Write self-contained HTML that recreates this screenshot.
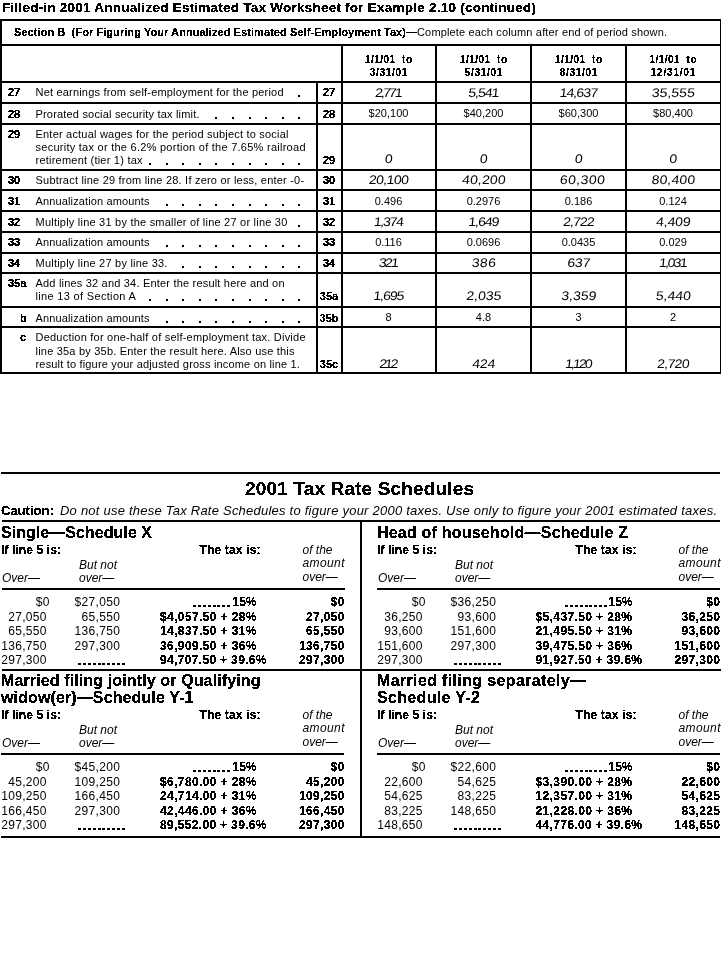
<!DOCTYPE html>
<html><head><meta charset="utf-8"><title>2001 Annualized Estimated Tax Worksheet</title>
<style>
html,body{margin:0;padding:0;background:#fff;width:721px;height:963px;overflow:hidden}
svg{display:block}
text{font-family:"Liberation Sans",Arial,Helvetica,sans-serif;font-size:11px;white-space:pre}
text.hw{font-style:normal}
</style></head><body>
<svg width="721" height="963" viewBox="0 0 721 963">
<defs><filter id="bin" filterUnits="userSpaceOnUse" x="0" y="0" width="721" height="963"><feComponentTransfer><feFuncA type="discrete" tableValues="0 1 1"/></feComponentTransfer></filter></defs>
<g shape-rendering="crispEdges" fill="#000">
<rect x="0" y="19" width="721" height="2"/>
<rect x="0" y="19" width="2" height="355"/>
<rect x="720" y="19" width="1" height="355"/>
<rect x="0" y="44" width="721" height="2"/>
<rect x="0" y="81" width="721" height="2"/>
<rect x="0" y="102" width="721" height="2"/>
<rect x="0" y="123" width="721" height="2"/>
<rect x="0" y="169" width="721" height="2"/>
<rect x="0" y="189" width="721" height="2"/>
<rect x="0" y="210" width="721" height="2"/>
<rect x="0" y="231" width="721" height="2"/>
<rect x="0" y="252" width="721" height="2"/>
<rect x="0" y="272" width="721" height="2"/>
<rect x="0" y="306" width="721" height="2"/>
<rect x="0" y="326" width="721" height="2"/>
<rect x="0" y="372" width="721" height="2"/>
<rect x="316" y="81" width="2" height="291"/>
<rect x="341" y="44" width="2" height="328"/>
<rect x="435" y="44" width="2" height="328"/>
<rect x="530" y="44" width="2" height="328"/>
<rect x="625" y="44" width="2" height="328"/>
<rect x="298" y="95" width="2" height="2"/>
<rect x="215" y="117" width="2" height="2"/>
<rect x="232" y="117" width="2" height="2"/>
<rect x="249" y="117" width="2" height="2"/>
<rect x="265" y="117" width="2" height="2"/>
<rect x="282" y="117" width="2" height="2"/>
<rect x="298" y="117" width="2" height="2"/>
<rect x="149" y="163" width="2" height="2"/>
<rect x="166" y="163" width="2" height="2"/>
<rect x="182" y="163" width="2" height="2"/>
<rect x="199" y="163" width="2" height="2"/>
<rect x="215" y="163" width="2" height="2"/>
<rect x="232" y="163" width="2" height="2"/>
<rect x="249" y="163" width="2" height="2"/>
<rect x="265" y="163" width="2" height="2"/>
<rect x="282" y="163" width="2" height="2"/>
<rect x="298" y="163" width="2" height="2"/>
<rect x="166" y="204" width="2" height="2"/>
<rect x="182" y="204" width="2" height="2"/>
<rect x="199" y="204" width="2" height="2"/>
<rect x="215" y="204" width="2" height="2"/>
<rect x="232" y="204" width="2" height="2"/>
<rect x="249" y="204" width="2" height="2"/>
<rect x="265" y="204" width="2" height="2"/>
<rect x="282" y="204" width="2" height="2"/>
<rect x="298" y="204" width="2" height="2"/>
<rect x="298" y="225" width="2" height="2"/>
<rect x="166" y="245" width="2" height="2"/>
<rect x="182" y="245" width="2" height="2"/>
<rect x="199" y="245" width="2" height="2"/>
<rect x="215" y="245" width="2" height="2"/>
<rect x="232" y="245" width="2" height="2"/>
<rect x="249" y="245" width="2" height="2"/>
<rect x="265" y="245" width="2" height="2"/>
<rect x="282" y="245" width="2" height="2"/>
<rect x="298" y="245" width="2" height="2"/>
<rect x="182" y="266" width="2" height="2"/>
<rect x="199" y="266" width="2" height="2"/>
<rect x="215" y="266" width="2" height="2"/>
<rect x="232" y="266" width="2" height="2"/>
<rect x="249" y="266" width="2" height="2"/>
<rect x="265" y="266" width="2" height="2"/>
<rect x="282" y="266" width="2" height="2"/>
<rect x="298" y="266" width="2" height="2"/>
<rect x="149" y="299" width="2" height="2"/>
<rect x="166" y="299" width="2" height="2"/>
<rect x="182" y="299" width="2" height="2"/>
<rect x="199" y="299" width="2" height="2"/>
<rect x="215" y="299" width="2" height="2"/>
<rect x="232" y="299" width="2" height="2"/>
<rect x="249" y="299" width="2" height="2"/>
<rect x="265" y="299" width="2" height="2"/>
<rect x="282" y="299" width="2" height="2"/>
<rect x="298" y="299" width="2" height="2"/>
<rect x="166" y="321" width="2" height="2"/>
<rect x="182" y="321" width="2" height="2"/>
<rect x="199" y="321" width="2" height="2"/>
<rect x="215" y="321" width="2" height="2"/>
<rect x="232" y="321" width="2" height="2"/>
<rect x="249" y="321" width="2" height="2"/>
<rect x="265" y="321" width="2" height="2"/>
<rect x="282" y="321" width="2" height="2"/>
<rect x="298" y="321" width="2" height="2"/>
<rect x="1" y="472" width="719" height="2"/>
<rect x="2" y="520" width="718" height="2"/>
<rect x="360" y="520" width="2" height="317"/>
<rect x="2" y="669" width="719" height="2"/>
<rect x="1" y="836" width="719" height="2"/>
<rect x="2" y="588" width="343" height="2"/>
<rect x="193" y="605" width="3" height="2"/>
<rect x="198" y="605" width="3" height="2"/>
<rect x="203" y="605" width="3" height="2"/>
<rect x="208" y="605" width="3" height="2"/>
<rect x="213" y="605" width="3" height="2"/>
<rect x="217" y="605" width="3" height="2"/>
<rect x="222" y="605" width="3" height="2"/>
<rect x="227" y="605" width="3" height="2"/>
<rect x="78" y="663" width="3" height="2"/>
<rect x="83" y="663" width="3" height="2"/>
<rect x="88" y="663" width="3" height="2"/>
<rect x="93" y="663" width="3" height="2"/>
<rect x="98" y="663" width="3" height="2"/>
<rect x="102" y="663" width="3" height="2"/>
<rect x="107" y="663" width="3" height="2"/>
<rect x="112" y="663" width="3" height="2"/>
<rect x="117" y="663" width="3" height="2"/>
<rect x="122" y="663" width="3" height="2"/>
<rect x="377" y="588" width="343" height="2"/>
<rect x="565" y="605" width="3" height="2"/>
<rect x="570" y="605" width="3" height="2"/>
<rect x="575" y="605" width="3" height="2"/>
<rect x="580" y="605" width="3" height="2"/>
<rect x="585" y="605" width="3" height="2"/>
<rect x="589" y="605" width="3" height="2"/>
<rect x="594" y="605" width="3" height="2"/>
<rect x="599" y="605" width="3" height="2"/>
<rect x="604" y="605" width="3" height="2"/>
<rect x="454" y="663" width="3" height="2"/>
<rect x="459" y="663" width="3" height="2"/>
<rect x="464" y="663" width="3" height="2"/>
<rect x="469" y="663" width="3" height="2"/>
<rect x="474" y="663" width="3" height="2"/>
<rect x="478" y="663" width="3" height="2"/>
<rect x="483" y="663" width="3" height="2"/>
<rect x="488" y="663" width="3" height="2"/>
<rect x="493" y="663" width="3" height="2"/>
<rect x="498" y="663" width="3" height="2"/>
<rect x="1" y="753" width="343" height="2"/>
<rect x="193" y="770" width="3" height="2"/>
<rect x="198" y="770" width="3" height="2"/>
<rect x="203" y="770" width="3" height="2"/>
<rect x="208" y="770" width="3" height="2"/>
<rect x="213" y="770" width="3" height="2"/>
<rect x="217" y="770" width="3" height="2"/>
<rect x="222" y="770" width="3" height="2"/>
<rect x="227" y="770" width="3" height="2"/>
<rect x="78" y="828" width="3" height="2"/>
<rect x="83" y="828" width="3" height="2"/>
<rect x="88" y="828" width="3" height="2"/>
<rect x="93" y="828" width="3" height="2"/>
<rect x="98" y="828" width="3" height="2"/>
<rect x="102" y="828" width="3" height="2"/>
<rect x="107" y="828" width="3" height="2"/>
<rect x="112" y="828" width="3" height="2"/>
<rect x="117" y="828" width="3" height="2"/>
<rect x="122" y="828" width="3" height="2"/>
<rect x="377" y="753" width="343" height="2"/>
<rect x="565" y="770" width="3" height="2"/>
<rect x="570" y="770" width="3" height="2"/>
<rect x="575" y="770" width="3" height="2"/>
<rect x="580" y="770" width="3" height="2"/>
<rect x="585" y="770" width="3" height="2"/>
<rect x="589" y="770" width="3" height="2"/>
<rect x="594" y="770" width="3" height="2"/>
<rect x="599" y="770" width="3" height="2"/>
<rect x="604" y="770" width="3" height="2"/>
<rect x="454" y="828" width="3" height="2"/>
<rect x="459" y="828" width="3" height="2"/>
<rect x="464" y="828" width="3" height="2"/>
<rect x="469" y="828" width="3" height="2"/>
<rect x="474" y="828" width="3" height="2"/>
<rect x="478" y="828" width="3" height="2"/>
<rect x="483" y="828" width="3" height="2"/>
<rect x="488" y="828" width="3" height="2"/>
<rect x="493" y="828" width="3" height="2"/>
<rect x="498" y="828" width="3" height="2"/>
</g>
<g class="txt" fill="#000">
<text x="417" y="36" textLength="250" lengthAdjust="spacing">Complete each column after end of period shown.</text>
<text x="35.5" y="96" textLength="248.0" lengthAdjust="spacing">Net earnings from self-employment for the period</text>
<text x="35.5" y="118" textLength="164.0" lengthAdjust="spacing">Prorated social security tax limit.</text>
<text x="35.5" y="138" textLength="253.0" lengthAdjust="spacing">Enter actual wages for the period subject to social</text>
<text x="35.5" y="151" textLength="270.0" lengthAdjust="spacing">security tax or the 6.2% portion of the 7.65% railroad</text>
<text x="35.5" y="164" textLength="107.0" lengthAdjust="spacing">retirement (tier 1) tax</text>
<text x="35.5" y="184" textLength="268.6" lengthAdjust="spacing">Subtract line 29 from line 28. If zero or less, enter -0-</text>
<text x="35.5" y="205" textLength="114.0" lengthAdjust="spacing">Annualization amounts</text>
<text x="35.5" y="226" textLength="251.8" lengthAdjust="spacing">Multiply line 31 by the smaller of line 27 or line 30</text>
<text x="35.5" y="246" textLength="114.0" lengthAdjust="spacing">Annualization amounts</text>
<text x="35.5" y="267" textLength="131.9" lengthAdjust="spacing">Multiply line 27 by line 33.</text>
<text x="35.5" y="287" textLength="249.0" lengthAdjust="spacing">Add lines 32 and 34. Enter the result here and on</text>
<text x="35.5" y="300" textLength="100.4" lengthAdjust="spacing">line 13 of Section A</text>
<text x="35.5" y="322" textLength="114.0" lengthAdjust="spacing">Annualization amounts</text>
<text x="35.5" y="341" textLength="270.0" lengthAdjust="spacing">Deduction for one-half of self-employment tax. Divide</text>
<text x="35.5" y="354.5" textLength="259.0" lengthAdjust="spacing">line 35a by 35b. Enter the result here. Also use this</text>
<text x="35.5" y="368" textLength="264.4" lengthAdjust="spacing">result to figure your adjusted gross income on line 1.</text>
<text transform="translate(388.5 97) skewX(-6) scale(1.12 1)" x="0" y="0" text-anchor="middle" textLength="24.55" lengthAdjust="spacing" class="hw" style="font-size:12.5px">2,771</text>
<text transform="translate(483.5 97) skewX(-6) scale(1.12 1)" x="0" y="0" text-anchor="middle" textLength="27.68" lengthAdjust="spacing" class="hw" style="font-size:12.5px">5,541</text>
<text transform="translate(578.5 97) skewX(-6) scale(1.12 1)" x="0" y="0" text-anchor="middle" textLength="34.38" lengthAdjust="spacing" class="hw" style="font-size:12.5px">14,637</text>
<text transform="translate(673 97) skewX(-6) scale(1.12 1)" x="0" y="0" text-anchor="middle" textLength="38.39" lengthAdjust="spacing" class="hw" style="font-size:12.5px">35,555</text>
<text x="388.5" y="117" text-anchor="middle">$20,100</text>
<text x="483.5" y="117" text-anchor="middle">$40,200</text>
<text x="578.5" y="117" text-anchor="middle">$60,300</text>
<text x="673" y="117" text-anchor="middle">$80,400</text>
<text transform="translate(388.5 163) skewX(-6) scale(1.12 1)" x="0" y="0" text-anchor="middle" class="hw" style="font-size:12.5px">0</text>
<text transform="translate(483.5 163) skewX(-6) scale(1.12 1)" x="0" y="0" text-anchor="middle" class="hw" style="font-size:12.5px">0</text>
<text transform="translate(578.5 163) skewX(-6) scale(1.12 1)" x="0" y="0" text-anchor="middle" class="hw" style="font-size:12.5px">0</text>
<text transform="translate(673 163) skewX(-6) scale(1.12 1)" x="0" y="0" text-anchor="middle" class="hw" style="font-size:12.5px">0</text>
<text transform="translate(388.5 184) skewX(-6) scale(1.12 1)" x="0" y="0" text-anchor="middle" textLength="35.71" lengthAdjust="spacing" class="hw" style="font-size:12.5px">20,100</text>
<text transform="translate(483.5 184) skewX(-6) scale(1.12 1)" x="0" y="0" text-anchor="middle" textLength="38.84" lengthAdjust="spacing" class="hw" style="font-size:12.5px">40,200</text>
<text transform="translate(582.0 184) skewX(-6) scale(1.12 1)" x="0" y="0" text-anchor="middle" textLength="40.18" lengthAdjust="spacing" class="hw" style="font-size:12.5px">60,300</text>
<text transform="translate(673 184) skewX(-6) scale(1.12 1)" x="0" y="0" text-anchor="middle" textLength="38.84" lengthAdjust="spacing" class="hw" style="font-size:12.5px">80,400</text>
<text x="388.5" y="205" text-anchor="middle">0.496</text>
<text x="483.5" y="205" text-anchor="middle">0.2976</text>
<text x="578.5" y="205" text-anchor="middle">0.186</text>
<text x="673" y="205" text-anchor="middle">0.124</text>
<text transform="translate(388.5 226) skewX(-6) scale(1.12 1)" x="0" y="0" text-anchor="middle" textLength="26.79" lengthAdjust="spacing" class="hw" style="font-size:12.5px">1,374</text>
<text transform="translate(483.5 226) skewX(-6) scale(1.12 1)" x="0" y="0" text-anchor="middle" textLength="27.68" lengthAdjust="spacing" class="hw" style="font-size:12.5px">1,649</text>
<text transform="translate(578.5 226) skewX(-6) scale(1.12 1)" x="0" y="0" text-anchor="middle" textLength="28.12" lengthAdjust="spacing" class="hw" style="font-size:12.5px">2,722</text>
<text transform="translate(673 226) skewX(-6) scale(1.12 1)" x="0" y="0" text-anchor="middle" textLength="30.8" lengthAdjust="spacing" class="hw" style="font-size:12.5px">4,409</text>
<text x="388.5" y="246" text-anchor="middle">0.116</text>
<text x="483.5" y="246" text-anchor="middle">0.0696</text>
<text x="578.5" y="246" text-anchor="middle">0.0435</text>
<text x="673" y="246" text-anchor="middle">0.029</text>
<text transform="translate(388.5 267) skewX(-6) scale(1.12 1)" x="0" y="0" text-anchor="middle" textLength="17.86" lengthAdjust="spacing" class="hw" style="font-size:12.5px">321</text>
<text transform="translate(483.5 267) skewX(-6) scale(1.12 1)" x="0" y="0" text-anchor="middle" textLength="21.43" lengthAdjust="spacing" class="hw" style="font-size:12.5px">386</text>
<text transform="translate(578.5 267) skewX(-6) scale(1.12 1)" x="0" y="0" text-anchor="middle" textLength="20.54" lengthAdjust="spacing" class="hw" style="font-size:12.5px">637</text>
<text transform="translate(673 267) skewX(-6) scale(1.12 1)" x="0" y="0" text-anchor="middle" textLength="25.45" lengthAdjust="spacing" class="hw" style="font-size:12.5px">1,031</text>
<text transform="translate(388.5 300) skewX(-6) scale(1.12 1)" x="0" y="0" text-anchor="middle" textLength="27.68" lengthAdjust="spacing" class="hw" style="font-size:12.5px">1,695</text>
<text transform="translate(483.5 300) skewX(-6) scale(1.12 1)" x="0" y="0" text-anchor="middle" textLength="31.25" lengthAdjust="spacing" class="hw" style="font-size:12.5px">2,035</text>
<text transform="translate(578.5 300) skewX(-6) scale(1.12 1)" x="0" y="0" text-anchor="middle" textLength="31.25" lengthAdjust="spacing" class="hw" style="font-size:12.5px">3,359</text>
<text transform="translate(673 300) skewX(-6) scale(1.12 1)" x="0" y="0" text-anchor="middle" textLength="31.25" lengthAdjust="spacing" class="hw" style="font-size:12.5px">5,440</text>
<text x="388.5" y="321" text-anchor="middle">8</text>
<text x="483.5" y="321" text-anchor="middle">4.8</text>
<text x="578.5" y="321" text-anchor="middle">3</text>
<text x="673" y="321" text-anchor="middle">2</text>
<text transform="translate(388.5 368) skewX(-6) scale(1.12 1)" x="0" y="0" text-anchor="middle" textLength="16.96" lengthAdjust="spacing" class="hw" style="font-size:12.5px">212</text>
<text transform="translate(483.5 368) skewX(-6) scale(1.12 1)" x="0" y="0" text-anchor="middle" textLength="20.54" lengthAdjust="spacing" class="hw" style="font-size:12.5px">424</text>
<text transform="translate(578.5 368) skewX(-6) scale(1.12 1)" x="0" y="0" text-anchor="middle" textLength="24.55" lengthAdjust="spacing" class="hw" style="font-size:12.5px">1,120</text>
<text transform="translate(673 368) skewX(-6) scale(1.12 1)" x="0" y="0" text-anchor="middle" textLength="29.02" lengthAdjust="spacing" class="hw" style="font-size:12.5px">2,720</text>
<text x="60" y="515" textLength="657" lengthAdjust="spacing" style="font-size:13px;font-style:italic">Do not use these Tax Rate Schedules to figure your 2000 taxes. Use only to figure your 2001 estimated taxes.</text>
<text x="302.5" y="553.5" style="font-size:12px;font-style:italic">of the</text>
<text x="302.5" y="567" textLength="42" lengthAdjust="spacing" style="font-size:12px;font-style:italic">amount</text>
<text x="302.5" y="580.5" style="font-size:12px;font-style:italic">over—</text>
<text x="79" y="569" style="font-size:12px;font-style:italic">But not</text>
<text x="2" y="582" style="font-size:12px;font-style:italic">Over—</text>
<text x="79" y="582" style="font-size:12px;font-style:italic">over—</text>
<text x="49.8" y="606" text-anchor="end" style="letter-spacing:0.3px;font-size:12px">$0</text>
<text x="120.35" y="606" text-anchor="end" style="letter-spacing:0.35px;font-size:12px">$27,050</text>
<text x="46.8" y="620.5" text-anchor="end" style="letter-spacing:0.3px;font-size:12px">27,050</text>
<text x="120.35" y="620.5" text-anchor="end" style="letter-spacing:0.35px;font-size:12px">65,550</text>
<text x="46.8" y="635" text-anchor="end" style="letter-spacing:0.3px;font-size:12px">65,550</text>
<text x="120.35" y="635" text-anchor="end" style="letter-spacing:0.35px;font-size:12px">136,750</text>
<text x="46.8" y="649.5" text-anchor="end" style="letter-spacing:0.3px;font-size:12px">136,750</text>
<text x="120.35" y="649.5" text-anchor="end" style="letter-spacing:0.35px;font-size:12px">297,300</text>
<text x="46.8" y="664" text-anchor="end" style="letter-spacing:0.3px;font-size:12px">297,300</text>
<text x="678.5" y="553.5" style="font-size:12px;font-style:italic">of the</text>
<text x="678.5" y="567" textLength="42" lengthAdjust="spacing" style="font-size:12px;font-style:italic">amount</text>
<text x="678.5" y="580.5" style="font-size:12px;font-style:italic">over—</text>
<text x="455" y="569" style="font-size:12px;font-style:italic">But not</text>
<text x="378" y="582" style="font-size:12px;font-style:italic">Over—</text>
<text x="455" y="582" style="font-size:12px;font-style:italic">over—</text>
<text x="425.8" y="606" text-anchor="end" style="letter-spacing:0.3px;font-size:12px">$0</text>
<text x="496.35" y="606" text-anchor="end" style="letter-spacing:0.35px;font-size:12px">$36,250</text>
<text x="422.8" y="620.5" text-anchor="end" style="letter-spacing:0.3px;font-size:12px">36,250</text>
<text x="496.35" y="620.5" text-anchor="end" style="letter-spacing:0.35px;font-size:12px">93,600</text>
<text x="422.8" y="635" text-anchor="end" style="letter-spacing:0.3px;font-size:12px">93,600</text>
<text x="496.35" y="635" text-anchor="end" style="letter-spacing:0.35px;font-size:12px">151,600</text>
<text x="422.8" y="649.5" text-anchor="end" style="letter-spacing:0.3px;font-size:12px">151,600</text>
<text x="496.35" y="649.5" text-anchor="end" style="letter-spacing:0.35px;font-size:12px">297,300</text>
<text x="422.8" y="664" text-anchor="end" style="letter-spacing:0.3px;font-size:12px">297,300</text>
<text x="302.5" y="718.5" style="font-size:12px;font-style:italic">of the</text>
<text x="302.5" y="732" textLength="42" lengthAdjust="spacing" style="font-size:12px;font-style:italic">amount</text>
<text x="302.5" y="745.5" style="font-size:12px;font-style:italic">over—</text>
<text x="79" y="734" style="font-size:12px;font-style:italic">But not</text>
<text x="2" y="747" style="font-size:12px;font-style:italic">Over—</text>
<text x="79" y="747" style="font-size:12px;font-style:italic">over—</text>
<text x="49.8" y="771" text-anchor="end" style="letter-spacing:0.3px;font-size:12px">$0</text>
<text x="120.35" y="771" text-anchor="end" style="letter-spacing:0.35px;font-size:12px">$45,200</text>
<text x="46.8" y="785.5" text-anchor="end" style="letter-spacing:0.3px;font-size:12px">45,200</text>
<text x="120.35" y="785.5" text-anchor="end" style="letter-spacing:0.35px;font-size:12px">109,250</text>
<text x="46.8" y="800" text-anchor="end" style="letter-spacing:0.3px;font-size:12px">109,250</text>
<text x="120.35" y="800" text-anchor="end" style="letter-spacing:0.35px;font-size:12px">166,450</text>
<text x="46.8" y="814.5" text-anchor="end" style="letter-spacing:0.3px;font-size:12px">166,450</text>
<text x="120.35" y="814.5" text-anchor="end" style="letter-spacing:0.35px;font-size:12px">297,300</text>
<text x="46.8" y="829" text-anchor="end" style="letter-spacing:0.3px;font-size:12px">297,300</text>
<text x="678.5" y="718.5" style="font-size:12px;font-style:italic">of the</text>
<text x="678.5" y="732" textLength="42" lengthAdjust="spacing" style="font-size:12px;font-style:italic">amount</text>
<text x="678.5" y="745.5" style="font-size:12px;font-style:italic">over—</text>
<text x="455" y="734" style="font-size:12px;font-style:italic">But not</text>
<text x="378" y="747" style="font-size:12px;font-style:italic">Over—</text>
<text x="455" y="747" style="font-size:12px;font-style:italic">over—</text>
<text x="425.8" y="771" text-anchor="end" style="letter-spacing:0.3px;font-size:12px">$0</text>
<text x="496.35" y="771" text-anchor="end" style="letter-spacing:0.35px;font-size:12px">$22,600</text>
<text x="422.8" y="785.5" text-anchor="end" style="letter-spacing:0.3px;font-size:12px">22,600</text>
<text x="496.35" y="785.5" text-anchor="end" style="letter-spacing:0.35px;font-size:12px">54,625</text>
<text x="422.8" y="800" text-anchor="end" style="letter-spacing:0.3px;font-size:12px">54,625</text>
<text x="496.35" y="800" text-anchor="end" style="letter-spacing:0.35px;font-size:12px">83,225</text>
<text x="422.8" y="814.5" text-anchor="end" style="letter-spacing:0.3px;font-size:12px">83,225</text>
<text x="496.35" y="814.5" text-anchor="end" style="letter-spacing:0.35px;font-size:12px">148,650</text>
<text x="422.8" y="829" text-anchor="end" style="letter-spacing:0.3px;font-size:12px">148,650</text>
</g>
<g class="txtb" fill="#000" filter="url(#bin)">
<text x="2" y="12" textLength="534" lengthAdjust="spacing" style="font-size:13.5px;font-weight:bold">Filled-in 2001 Annualized Estimated Tax Worksheet for Example 2.10 (continued)</text>
<text x="14" y="36" textLength="403" lengthAdjust="spacing" style="font-weight:bold">Section B  (For Figuring Your Annualized Estimated Self-Employment Tax)—</text>
<text x="388.5" y="63" text-anchor="middle" textLength="47" lengthAdjust="spacing" style="font-size:10px;font-weight:bold">1/1/01  to</text>
<text x="388.5" y="75.5" text-anchor="middle" textLength="37.5" lengthAdjust="spacing" style="font-size:10px;font-weight:bold">3/31/01</text>
<text x="483.5" y="63" text-anchor="middle" textLength="47" lengthAdjust="spacing" style="font-size:10px;font-weight:bold">1/1/01  to</text>
<text x="483.5" y="75.5" text-anchor="middle" textLength="37.5" lengthAdjust="spacing" style="font-size:10px;font-weight:bold">5/31/01</text>
<text x="578.5" y="63" text-anchor="middle" textLength="47" lengthAdjust="spacing" style="font-size:10px;font-weight:bold">1/1/01  to</text>
<text x="578.5" y="75.5" text-anchor="middle" textLength="37.5" lengthAdjust="spacing" style="font-size:10px;font-weight:bold">8/31/01</text>
<text x="673" y="63" text-anchor="middle" textLength="47" lengthAdjust="spacing" style="font-size:10px;font-weight:bold">1/1/01  to</text>
<text x="673" y="75.5" text-anchor="middle" textLength="44.5" lengthAdjust="spacing" style="font-size:10px;font-weight:bold">12/31/01</text>
<text x="8" y="96" style="font-weight:bold">27</text>
<text x="329" y="96" text-anchor="middle" style="font-weight:bold">27</text>
<text x="8" y="118" style="font-weight:bold">28</text>
<text x="329" y="118" text-anchor="middle" style="font-weight:bold">28</text>
<text x="8" y="138" style="font-weight:bold">29</text>
<text x="329" y="164" text-anchor="middle" style="font-weight:bold">29</text>
<text x="8" y="184" style="font-weight:bold">30</text>
<text x="329" y="184" text-anchor="middle" style="font-weight:bold">30</text>
<text x="8" y="205" style="font-weight:bold">31</text>
<text x="329" y="205" text-anchor="middle" style="font-weight:bold">31</text>
<text x="8" y="226" style="font-weight:bold">32</text>
<text x="329" y="226" text-anchor="middle" style="font-weight:bold">32</text>
<text x="8" y="246" style="font-weight:bold">33</text>
<text x="329" y="246" text-anchor="middle" style="font-weight:bold">33</text>
<text x="8" y="267" style="font-weight:bold">34</text>
<text x="329" y="267" text-anchor="middle" style="font-weight:bold">34</text>
<text x="8" y="287" style="font-weight:bold">35a</text>
<text x="329" y="300" text-anchor="middle" style="font-weight:bold">35a</text>
<text x="20" y="322" style="font-weight:bold">b</text>
<text x="329" y="322" text-anchor="middle" style="font-weight:bold">35b</text>
<text x="20" y="341" style="font-weight:bold">c</text>
<text x="329" y="368" text-anchor="middle" style="font-weight:bold">35c</text>
<text x="245" y="495" textLength="229" lengthAdjust="spacing" style="font-size:19px;font-weight:bold">2001 Tax Rate Schedules</text>
<text x="1" y="515" style="font-size:13px"><tspan style="font-weight:bold">Caution:</tspan></text>
<text x="1" y="538" textLength="151" lengthAdjust="spacing" style="font-size:16px;font-weight:bold">Single—Schedule X</text>
<text x="1" y="554" textLength="60" lengthAdjust="spacing" style="font-size:12px;font-weight:bold">If line 5 is:</text>
<text x="199.5" y="554" textLength="61" lengthAdjust="spacing" style="font-size:12px;font-weight:bold">The tax is:</text>
<text x="256.5" y="606" text-anchor="end" style="font-size:12px;font-weight:bold">15%</text>
<text x="344.85" y="606" text-anchor="end" style="letter-spacing:0.35px;font-size:12px;font-weight:bold">$0</text>
<text x="160" y="620.5" textLength="96.5" lengthAdjust="spacing" style="font-size:12px;font-weight:bold">$4,057.50 + 28%</text>
<text x="344.85" y="620.5" text-anchor="end" style="letter-spacing:0.35px;font-size:12px;font-weight:bold">27,050</text>
<text x="160" y="635" textLength="96.5" lengthAdjust="spacing" style="font-size:12px;font-weight:bold">14,837.50 + 31%</text>
<text x="344.85" y="635" text-anchor="end" style="letter-spacing:0.35px;font-size:12px;font-weight:bold">65,550</text>
<text x="160" y="649.5" textLength="96.5" lengthAdjust="spacing" style="font-size:12px;font-weight:bold">36,909.50 + 36%</text>
<text x="344.85" y="649.5" text-anchor="end" style="letter-spacing:0.35px;font-size:12px;font-weight:bold">136,750</text>
<text x="160" y="664" textLength="106.5" lengthAdjust="spacing" style="font-size:12px;font-weight:bold">94,707.50 + 39.6%</text>
<text x="344.85" y="664" text-anchor="end" style="letter-spacing:0.35px;font-size:12px;font-weight:bold">297,300</text>
<text x="377" y="538" textLength="251" lengthAdjust="spacing" style="font-size:16px;font-weight:bold">Head of household—Schedule Z</text>
<text x="377" y="554" textLength="60" lengthAdjust="spacing" style="font-size:12px;font-weight:bold">If line 5 is:</text>
<text x="575.5" y="554" textLength="61" lengthAdjust="spacing" style="font-size:12px;font-weight:bold">The tax is:</text>
<text x="632.5" y="606" text-anchor="end" style="font-size:12px;font-weight:bold">15%</text>
<text x="720.35" y="606" text-anchor="end" style="letter-spacing:0.35px;font-size:12px;font-weight:bold">$0</text>
<text x="535.5" y="620.5" textLength="96.5" lengthAdjust="spacing" style="font-size:12px;font-weight:bold">$5,437.50 + 28%</text>
<text x="720.35" y="620.5" text-anchor="end" style="letter-spacing:0.35px;font-size:12px;font-weight:bold">36,250</text>
<text x="535.5" y="635" textLength="96.5" lengthAdjust="spacing" style="font-size:12px;font-weight:bold">21,495.50 + 31%</text>
<text x="720.35" y="635" text-anchor="end" style="letter-spacing:0.35px;font-size:12px;font-weight:bold">93,600</text>
<text x="535.5" y="649.5" textLength="96.5" lengthAdjust="spacing" style="font-size:12px;font-weight:bold">39,475.50 + 36%</text>
<text x="720.35" y="649.5" text-anchor="end" style="letter-spacing:0.35px;font-size:12px;font-weight:bold">151,600</text>
<text x="535.5" y="664" textLength="106.5" lengthAdjust="spacing" style="font-size:12px;font-weight:bold">91,927.50 + 39.6%</text>
<text x="720.35" y="664" text-anchor="end" style="letter-spacing:0.35px;font-size:12px;font-weight:bold">297,300</text>
<text x="1" y="686" textLength="259.5" lengthAdjust="spacing" style="font-size:16px;font-weight:bold">Married filing jointly or Qualifying</text>
<text x="1" y="703" textLength="192.5" lengthAdjust="spacing" style="font-size:16px;font-weight:bold">widow(er)—Schedule Y-1</text>
<text x="1" y="719" textLength="60" lengthAdjust="spacing" style="font-size:12px;font-weight:bold">If line 5 is:</text>
<text x="199.5" y="719" textLength="61" lengthAdjust="spacing" style="font-size:12px;font-weight:bold">The tax is:</text>
<text x="256.5" y="771" text-anchor="end" style="font-size:12px;font-weight:bold">15%</text>
<text x="344.85" y="771" text-anchor="end" style="letter-spacing:0.35px;font-size:12px;font-weight:bold">$0</text>
<text x="160" y="785.5" textLength="96.5" lengthAdjust="spacing" style="font-size:12px;font-weight:bold">$6,780.00 + 28%</text>
<text x="344.85" y="785.5" text-anchor="end" style="letter-spacing:0.35px;font-size:12px;font-weight:bold">45,200</text>
<text x="160" y="800" textLength="96.5" lengthAdjust="spacing" style="font-size:12px;font-weight:bold">24,714.00 + 31%</text>
<text x="344.85" y="800" text-anchor="end" style="letter-spacing:0.35px;font-size:12px;font-weight:bold">109,250</text>
<text x="160" y="814.5" textLength="96.5" lengthAdjust="spacing" style="font-size:12px;font-weight:bold">42,446.00 + 36%</text>
<text x="344.85" y="814.5" text-anchor="end" style="letter-spacing:0.35px;font-size:12px;font-weight:bold">166,450</text>
<text x="160" y="829" textLength="106.5" lengthAdjust="spacing" style="font-size:12px;font-weight:bold">89,552.00 + 39.6%</text>
<text x="344.85" y="829" text-anchor="end" style="letter-spacing:0.35px;font-size:12px;font-weight:bold">297,300</text>
<text x="377" y="686" textLength="209" lengthAdjust="spacing" style="font-size:16px;font-weight:bold">Married filing separately—</text>
<text x="377" y="703" textLength="103" lengthAdjust="spacing" style="font-size:16px;font-weight:bold">Schedule Y-2</text>
<text x="377" y="719" textLength="60" lengthAdjust="spacing" style="font-size:12px;font-weight:bold">If line 5 is:</text>
<text x="575.5" y="719" textLength="61" lengthAdjust="spacing" style="font-size:12px;font-weight:bold">The tax is:</text>
<text x="632.5" y="771" text-anchor="end" style="font-size:12px;font-weight:bold">15%</text>
<text x="720.35" y="771" text-anchor="end" style="letter-spacing:0.35px;font-size:12px;font-weight:bold">$0</text>
<text x="535.5" y="785.5" textLength="96.5" lengthAdjust="spacing" style="font-size:12px;font-weight:bold">$3,390.00 + 28%</text>
<text x="720.35" y="785.5" text-anchor="end" style="letter-spacing:0.35px;font-size:12px;font-weight:bold">22,600</text>
<text x="535.5" y="800" textLength="96.5" lengthAdjust="spacing" style="font-size:12px;font-weight:bold">12,357.00 + 31%</text>
<text x="720.35" y="800" text-anchor="end" style="letter-spacing:0.35px;font-size:12px;font-weight:bold">54,625</text>
<text x="535.5" y="814.5" textLength="96.5" lengthAdjust="spacing" style="font-size:12px;font-weight:bold">21,228.00 + 36%</text>
<text x="720.35" y="814.5" text-anchor="end" style="letter-spacing:0.35px;font-size:12px;font-weight:bold">83,225</text>
<text x="535.5" y="829" textLength="106.5" lengthAdjust="spacing" style="font-size:12px;font-weight:bold">44,776.00 + 39.6%</text>
<text x="720.35" y="829" text-anchor="end" style="letter-spacing:0.35px;font-size:12px;font-weight:bold">148,650</text>
</g>
</svg>
</body></html>
